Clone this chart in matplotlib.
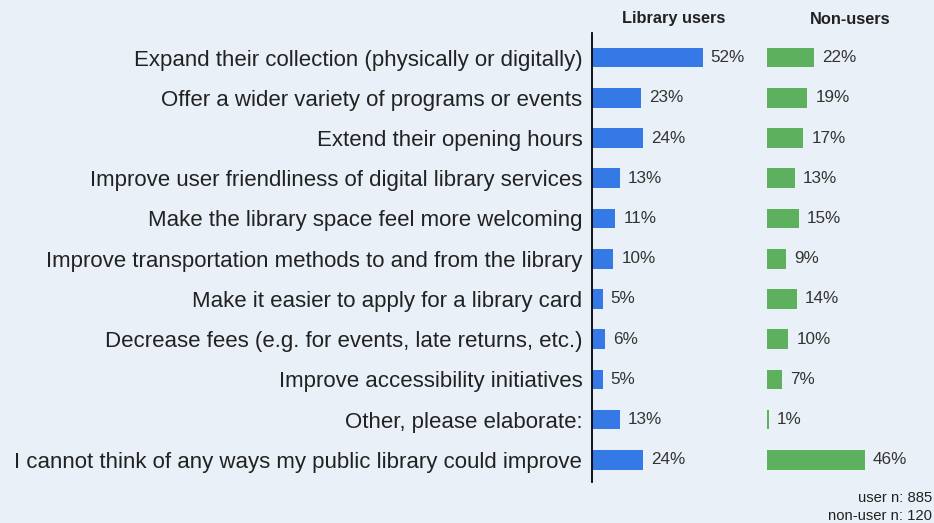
import matplotlib.pyplot as plt

plt.rcParams['font.family'] = ['Liberation Sans', 'DejaVu Sans']

categories = [
    "Expand their collection (physically or digitally)",
    "Offer a wider variety of programs or events",
    "Extend their opening hours",
    "Improve user friendliness of digital library services",
    "Make the library space feel more welcoming",
    "Improve transportation methods to and from the library",
    "Make it easier to apply for a library card",
    "Decrease fees (e.g. for events, late returns, etc.)",
    "Improve accessibility initiatives",
    "Other, please elaborate:",
    "I cannot think of any ways my public library could improve",
]
users = [52, 23, 24, 13, 11, 10, 5, 6, 5, 13, 24]
non_users = [22, 19, 17, 13, 15, 9, 14, 10, 7, 1, 46]

BG = "#e9f0f7"
BLUE = "#3579e6"
GREEN = "#5db05d"

W, H = 934, 523
fig = plt.figure(figsize=(W / 100, H / 100), dpi=100, facecolor=BG)

top, bottom = 33, 482
ax1 = fig.add_axes([592 / W, 1 - bottom / H, 149 / W, (bottom - top) / H])
ax2 = fig.add_axes([767 / W, 1 - bottom / H, 149 / W, (bottom - top) / H])

ypos = list(range(len(categories)))
for ax, vals, color in [(ax1, users, BLUE), (ax2, non_users, GREEN)]:
    ax.set_facecolor(BG)
    ax.barh(ypos, vals, height=0.49, color=color)
    for y, v in zip(ypos, vals):
        ax.text(v + 3.8, y, f"{v}%", va="center", ha="left",
                fontsize=12.3, color="#333333")
    ax.set_xlim(0, 70)
    ax.set_ylim(10.55, -0.61)
    ax.set_xticks([])
    for s in ["top", "right", "bottom", "left"]:
        ax.spines[s].set_visible(False)

ax1.spines["left"].set_visible(True)
ax1.spines["left"].set_color("black")
ax1.spines["left"].set_linewidth(1.3)
ax1.set_yticks(ypos)
ax1.set_yticklabels(categories, fontsize=16, color="#222222")
ax1.tick_params(axis="y", length=0, pad=7)
ax2.set_yticks([])

fig.text(674 / W, 1 - 19 / H, "Library users", ha="center", va="center",
         fontsize=11.8, fontweight="bold", color="#222222")
fig.text(850 / W, 1 - 19 / H, "Non-users", ha="center", va="center",
         fontsize=11.8, fontweight="bold", color="#222222")

fig.text(932 / W, 1 - 498 / H, "user n: 885", ha="right", va="center",
         fontsize=10.7, color="#222222")
fig.text(932 / W, 1 - 516 / H, "non-user n: 120", ha="right", va="center",
         fontsize=10.7, color="#222222")

fig.savefig("out.png", dpi=100, facecolor=BG)
